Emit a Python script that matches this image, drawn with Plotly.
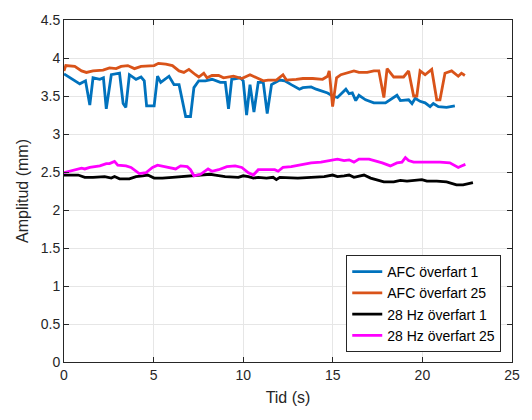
import plotly.graph_objects as go

# AFC överfart 1
afc1_t = [0.0, 0.45, 0.88, 1.2, 1.44, 1.62, 2.0, 2.2, 2.36, 2.64, 3.1, 3.3, 3.45, 3.65, 4.02, 4.3, 4.48,
          4.61, 5.03, 5.22, 5.4, 5.86, 6.14, 6.42, 6.79, 7.06, 7.25, 7.52, 7.89, 8.26, 8.72, 9.0, 9.18,
          9.36, 9.83, 10.0, 10.19, 10.38, 10.6, 10.84, 11.12, 11.34, 11.58, 12.04, 12.32, 12.68, 13.14,
          13.33, 13.79, 14.07, 14.34, 14.71, 14.99, 15.26, 15.73, 15.91, 16.09, 16.28, 16.46, 16.83,
          17.29, 17.94, 18.58, 18.77, 19.23, 19.42, 19.6, 19.87, 20.15, 20.43, 20.61, 20.89, 21.35, 21.81]
afc1_a = [3.79, 3.72, 3.66, 3.70, 3.38, 3.74, 3.72, 3.74, 3.33, 3.78, 3.80, 3.40, 3.35, 3.78, 3.72, 3.75,
          3.70, 3.37, 3.37, 3.76, 3.68, 3.76, 3.65, 3.65, 3.23, 3.23, 3.61, 3.70, 3.70, 3.72, 3.68, 3.68,
          3.33, 3.72, 3.74, 3.70, 3.25, 3.65, 3.29, 3.68, 3.68, 3.27, 3.65, 3.71, 3.70, 3.65, 3.59, 3.61,
          3.62, 3.59, 3.57, 3.54, 3.50, 3.48, 3.59, 3.53, 3.54, 3.44, 3.51, 3.45, 3.41, 3.41, 3.51, 3.44,
          3.45, 3.40, 3.47, 3.43, 3.41, 3.36, 3.40, 3.36, 3.35, 3.37]

# AFC överfart 25
afc25_t = [0.0, 0.1, 0.6, 0.98, 1.25, 1.62, 2.18, 2.54, 2.91, 3.19, 3.56, 3.93, 4.3, 4.76, 5.03, 5.27,
           5.68, 6.05, 6.42, 6.69, 6.97, 7.34, 7.52, 7.8, 7.98, 8.26, 8.63, 8.9, 9.46, 9.92, 10.38, 10.75,
           11.12, 11.39, 11.85, 12.22, 12.41, 12.96, 13.33, 13.88, 14.43, 14.71, 14.8, 14.99, 15.21, 15.45,
           15.73, 16.18, 16.46, 16.92, 17.29, 17.57, 17.85, 18.03, 18.4, 18.95, 19.23, 19.51, 19.69,
           19.87, 20.15, 20.52, 20.8, 20.98, 21.26, 21.63, 22.0, 22.18, 22.37]
afc25_a = [3.83, 3.90, 3.89, 3.83, 3.81, 3.83, 3.84, 3.87, 3.86, 3.89, 3.90, 3.86, 3.89, 3.90, 3.90, 3.93,
           3.92, 3.90, 3.83, 3.81, 3.85, 3.78, 3.75, 3.80, 3.74, 3.77, 3.77, 3.74, 3.76, 3.73, 3.78, 3.74,
           3.70, 3.71, 3.71, 3.78, 3.71, 3.72, 3.73, 3.73, 3.72, 3.76, 3.83, 3.36, 3.74, 3.78, 3.80, 3.83,
           3.81, 3.81, 3.83, 3.83, 3.48, 3.86, 3.75, 3.75, 3.83, 3.50, 3.50, 3.83, 3.78, 3.85, 3.45, 3.45,
           3.80, 3.83, 3.76, 3.80, 3.77]

# 28 Hz överfart 1
hz1_t = [0.0, 0.42, 0.79, 1.16, 1.62, 2.27, 2.64, 2.82, 3.1, 3.65, 4.02, 4.39, 4.67, 5.03, 5.49, 6.05,
         6.6, 7.15, 7.7, 8.16, 8.44, 8.99, 9.73, 10.0, 10.29, 10.57, 10.84, 11.3, 11.67, 11.85, 12.04,
         12.68, 13.05, 13.79, 14.52, 14.99, 15.26, 15.63, 15.91, 16.18, 16.46, 16.74, 17.11, 17.48, 17.85,
         18.4, 18.77, 19.14, 19.51, 19.97, 20.25, 20.8, 21.35, 21.9, 22.27, 22.55, 22.82]
hz1_a = [2.46, 2.46, 2.46, 2.43, 2.43, 2.44, 2.42, 2.44, 2.41, 2.41, 2.44, 2.45, 2.46, 2.42, 2.42, 2.43,
         2.44, 2.45, 2.46, 2.47, 2.46, 2.44, 2.43, 2.45, 2.44, 2.42, 2.43, 2.42, 2.43, 2.40, 2.43, 2.42,
         2.42, 2.43, 2.44, 2.46, 2.44, 2.45, 2.46, 2.43, 2.45, 2.46, 2.42, 2.39, 2.37, 2.37, 2.39, 2.38,
         2.39, 2.40, 2.38, 2.38, 2.37, 2.33, 2.33, 2.35, 2.36]

# 28 Hz överfart 25
hz25_t = [0.0, 0.33, 0.7, 0.98, 1.16, 1.44, 2.0, 2.36, 2.54, 2.82, 3.0, 3.46, 3.74, 4.2, 4.57, 4.94, 5.22,
          5.68, 6.23, 6.51, 6.88, 7.06, 7.25, 7.62, 7.89, 8.04, 8.26, 8.63, 9.09, 9.55, 9.92, 10.29,
          10.57, 10.84, 11.21, 11.76, 11.95, 12.22, 12.68, 13.05, 13.79, 14.34, 14.9, 15.26, 15.63, 15.91,
          16.18, 16.46, 17.02, 17.39, 17.76, 18.21, 18.58, 18.86, 19.05, 19.23, 19.51, 19.87, 20.43,
          20.98, 21.53, 21.81, 22.0, 22.18, 22.4]
hz25_a = [2.49, 2.51, 2.53, 2.55, 2.54, 2.56, 2.58, 2.61, 2.61, 2.64, 2.59, 2.58, 2.56, 2.48, 2.49, 2.56,
          2.59, 2.57, 2.54, 2.58, 2.57, 2.53, 2.45, 2.47, 2.51, 2.54, 2.51, 2.53, 2.57, 2.58, 2.56, 2.49,
          2.46, 2.53, 2.53, 2.53, 2.51, 2.56, 2.57, 2.59, 2.62, 2.63, 2.66, 2.67, 2.65, 2.66, 2.63, 2.67,
          2.67, 2.65, 2.62, 2.58, 2.62, 2.63, 2.69, 2.65, 2.63, 2.63, 2.63, 2.63, 2.62, 2.59, 2.56, 2.58,
          2.60]

x_ticks = [0, 5, 10, 15, 20, 25]
y_ticks = [0, 0.5, 1, 1.5, 2, 2.5, 3, 3.5, 4, 4.5]

series = [
    ("AFC överfart 1", afc1_t, afc1_a, "#0072BD"),
    ("AFC överfart 25", afc25_t, afc25_a, "#D95319"),
    ("28 Hz överfart 1", hz1_t, hz1_a, "#000000"),
    ("28 Hz överfart 25", hz25_t, hz25_a, "#FF00FF"),
]

fig = go.Figure()
for name, t, a, color in series:
    fig.add_trace(go.Scatter(x=t, y=a, mode="lines", name=name,
                             line=dict(color=color, width=2.8)))

axis_common = dict(
    showline=True, linecolor="#262626", linewidth=1, mirror="ticks",
    ticks="inside", ticklen=5, tickcolor="#262626",
    showgrid=True, gridcolor="#E6E6E6", gridwidth=1,
    zeroline=False,
    tickfont=dict(family="Liberation Sans, Arial, sans-serif", size=14, color="#262626"),
)

fig.update_layout(
    width=532, height=420,
    margin=dict(l=64, r=16, t=13, b=58),
    paper_bgcolor="white", plot_bgcolor="white",
    font=dict(family="Liberation Sans, Arial, sans-serif", color="#262626"),
    xaxis=dict(range=[0, 25], tickvals=x_ticks,
               title=dict(text="Tid (s)", font=dict(size=16), standoff=10), **axis_common),
    yaxis=dict(range=[0, 4.5], tickvals=y_ticks,
               title=dict(text="Amplitud (mm)", font=dict(size=16), standoff=8), **axis_common),
    legend=dict(x=0.976, y=0.029, xanchor="right", yanchor="bottom",
                bgcolor="white", bordercolor="#262626", borderwidth=1,
                font=dict(size=14, color="#000000"), tracegroupgap=0,
                itemwidth=30),
    showlegend=True,
)

fig.write_html("out.html")
